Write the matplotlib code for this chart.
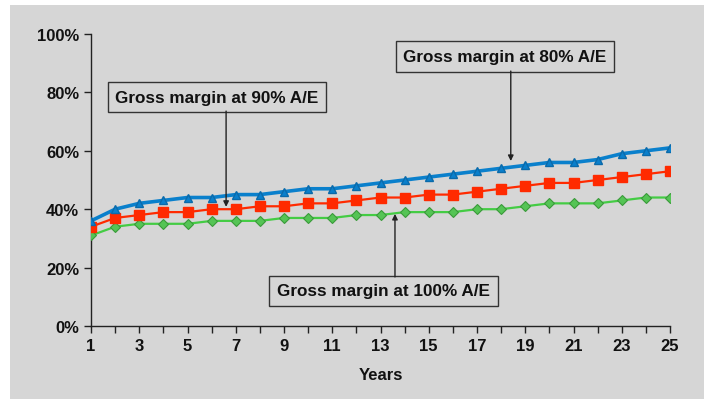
import numpy as np
import matplotlib.pyplot as plt
from matplotlib.patches import Rectangle

plt.rcParams['font.family'] = ['Liberation Sans', 'DejaVu Sans']

years = np.arange(1, 26)
gm_80 = [36, 40, 42, 43, 44, 44, 45, 45, 46, 47, 47, 48, 49, 50, 51, 52, 53, 54, 55, 56, 56, 57, 59, 60, 61]
gm_90 = [34, 37, 38, 39, 39, 40, 40, 41, 41, 42, 42, 43, 44, 44, 45, 45, 46, 47, 48, 49, 49, 50, 51, 52, 53]
gm_100 = [31, 34, 35, 35, 35, 36, 36, 36, 37, 37, 37, 38, 38, 39, 39, 39, 40, 40, 41, 42, 42, 42, 43, 44, 44]

bg = '#d6d6d6'
fig = plt.figure(figsize=(7.09, 4.06), dpi=100)
fig.patch.set_facecolor('white')
fig.patches.append(Rectangle((10/709, 6/406), 694/709, 394/406, transform=fig.transFigure,
                             facecolor=bg, edgecolor='none', zorder=-10))
ax = fig.add_axes([91/709, 1-327/406, 579/709, 292/406])
ax.set_facecolor('none')

ax.plot(years, gm_100, color='#44cc44', lw=1.6, marker='D', ms=5.5,
        mfc='#55c455', mec='#3a9a3a', mew=0.8, zorder=3)
ax.plot(years, gm_90, color='#ff2a00', lw=1.6, marker='s', ms=7.5,
        mfc='#ff2a00', mec='#ff2a00', zorder=4)
ax.plot(years, gm_80, color='#0a80cc', lw=2.6, marker='^', ms=5.5,
        mfc='#0a80cc', mec='#0a6aaa', zorder=5)

ax.set_xlim(1, 25)
ax.set_ylim(0, 100)
ax.set_xticks(years)
ax.set_xticklabels([str(y) if y % 2 == 1 else '' for y in years])
ax.set_yticks(range(0, 101, 20))
ax.set_yticklabels([f'{v}%' for v in range(0, 101, 20)])
ax.tick_params(axis='both', direction='out', length=5, width=1, color='#222222',
               labelsize=12, labelcolor='#111111')
for lab in ax.get_xticklabels() + ax.get_yticklabels():
    lab.set_fontweight('bold')
ax.spines['top'].set_visible(False)
ax.spines['right'].set_visible(False)
for s in ('left', 'bottom'):
    ax.spines[s].set_color('#222222')
    ax.spines[s].set_linewidth(1)
ax.set_xlabel('Years', fontsize=12, fontweight='bold', labelpad=10, color='#111111')

box = dict(boxstyle='square,pad=0.45', facecolor=bg, edgecolor='#333333', lw=1)
labels = [('Gross margin at 80% A/E', 0.715, 0.923, 18.4, 87.3, 56.5),
          ('Gross margin at 90% A/E', 0.2176, 0.784, 6.6, 73.6, 40.8),
          ('Gross margin at 100% A/E', 0.505, 0.12, 13.6, 16.8, 38.4)]
for txt, bx, by, ax_x, y0, y1 in labels:
    ax.text(bx, by, txt, transform=ax.transAxes, ha='center', va='center',
            fontsize=12.3, fontweight='bold', color='#111111', bbox=box, zorder=6)
    ax.annotate('', xy=(ax_x, y1), xytext=(ax_x, y0),
                arrowprops=dict(arrowstyle='-|>', color='#222222', lw=1,
                                mutation_scale=8, shrinkA=0, shrinkB=0), zorder=6)

fig.savefig('out.png', dpi=100, facecolor='white')
